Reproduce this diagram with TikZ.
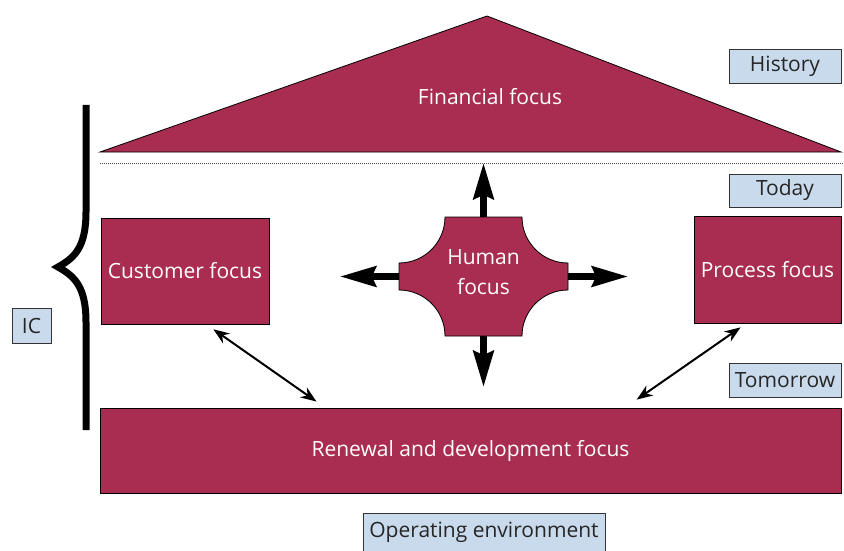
\documentclass[tikz,border=0pt]{standalone}
\usepackage{fontspec}
\setmainfont{Open Sans}
\usepackage{xcolor}
\usepackage{tikz}
\usetikzlibrary{arrows.meta}
\definecolor{focusred}{RGB}{168,45,80}
\definecolor{tagblue}{RGB}{201,218,236}

\begin{document}
\begin{tikzpicture}[x=1pt, y=-1pt,
    every node/.style={font=\fontsize{21}{30}\selectfont},
    focus/.style={draw=black, line width=0.8pt, fill=focusred, text=white, inner sep=0pt},
    tag/.style={draw=black!80, line width=0.8pt, fill=tagblue, text=black!85, inner sep=0pt},
    bigarrow/.style={line width=7pt, -{Stealth[length=36pt,width=20pt,inset=4pt]}},
    twoway/.style={line width=2pt, {Stealth[length=16pt,width=12pt]}-{Stealth[length=16pt,width=12pt]}}]
            \useasboundingbox (0,0) rectangle (844,551);
            % Roof and its divider
            \draw[focus] (100,152) -- (487,16) -- (841,152) -- cycle;
            \node[text=white] (fin) at (490,97) {Financial focus};
            \draw[gray!60!black, line width=0.8pt, dash pattern=on 1pt off 1pt] (100,163) -- (844,163);
            % Rooms and base
            \node[focus, minimum width=168, minimum height=106] (cust) at (185,271) {Customer focus};
            \node[focus, minimum width=147, minimum height=107] (proc) at (767.5,269.5) {Process focus};
            \node[focus, minimum width=741, minimum height=85] (renew) at (470.5,450.5) {Renewal and development focus};
            % Human focus with cut corners
            \draw[focus] (445,217) -- (522,217) .. controls (522,242.4) and (542.6,263) .. (568,263)
                -- (568,290) .. controls (542.6,290) and (522,310.6) .. (522,336)
                -- (445,336) .. controls (445,310.6) and (424.4,290) .. (399,290)
                -- (399,263) .. controls (424.4,263) and (445,242.4) .. (445,217) -- cycle;
            \node[minimum width=169, minimum height=119, inner sep=0pt] (human) at (483.5,276.5) {};
            \node[text=white, align=center] (humantxt) at (483.5,272) {Human\\focus};
            \draw[bigarrow] (human.north) -- ++(0,-54);
            \draw[bigarrow] (human.south) -- ++(0,51);
            \draw[bigarrow] (human.west) -- ++(-59,0);
            \draw[bigarrow] (human.east) -- ++(60,0);
            % Links to the base
            \draw[twoway, shorten <=8.5pt, shorten >=10.5pt] ([xshift=-63pt]cust.south east) -- ([xshift=225.5pt]renew.north west);
            \draw[twoway, shorten <=14pt, shorten >=7pt] ([xshift=525.6pt]renew.north west) -- ([xshift=52.7pt]proc.south west);
            % Brace
            \draw[line width=7pt] (86,105) -- (86,212) .. controls (86,248) and (74,258) .. (58,267)
                .. controls (74,276) and (86,286) .. (86,322) -- (86,430);
            % Labels
            \node[tag, minimum width=112, minimum height=34] (hist) at (785,66) {History};
            \node[tag, minimum width=112, minimum height=33] (today) at (785,190.5) {Today};
            \node[tag, minimum width=112, minimum height=34] (tmrw) at (785,380) {Tomorrow};
            \node[tag, minimum width=39, minimum height=35] (ic) at (31.5,325.5) {IC};
            \node[tag, minimum width=242, minimum height=38] (env) at (484,532) {Operating environment};
        \end{tikzpicture}
\end{document}
